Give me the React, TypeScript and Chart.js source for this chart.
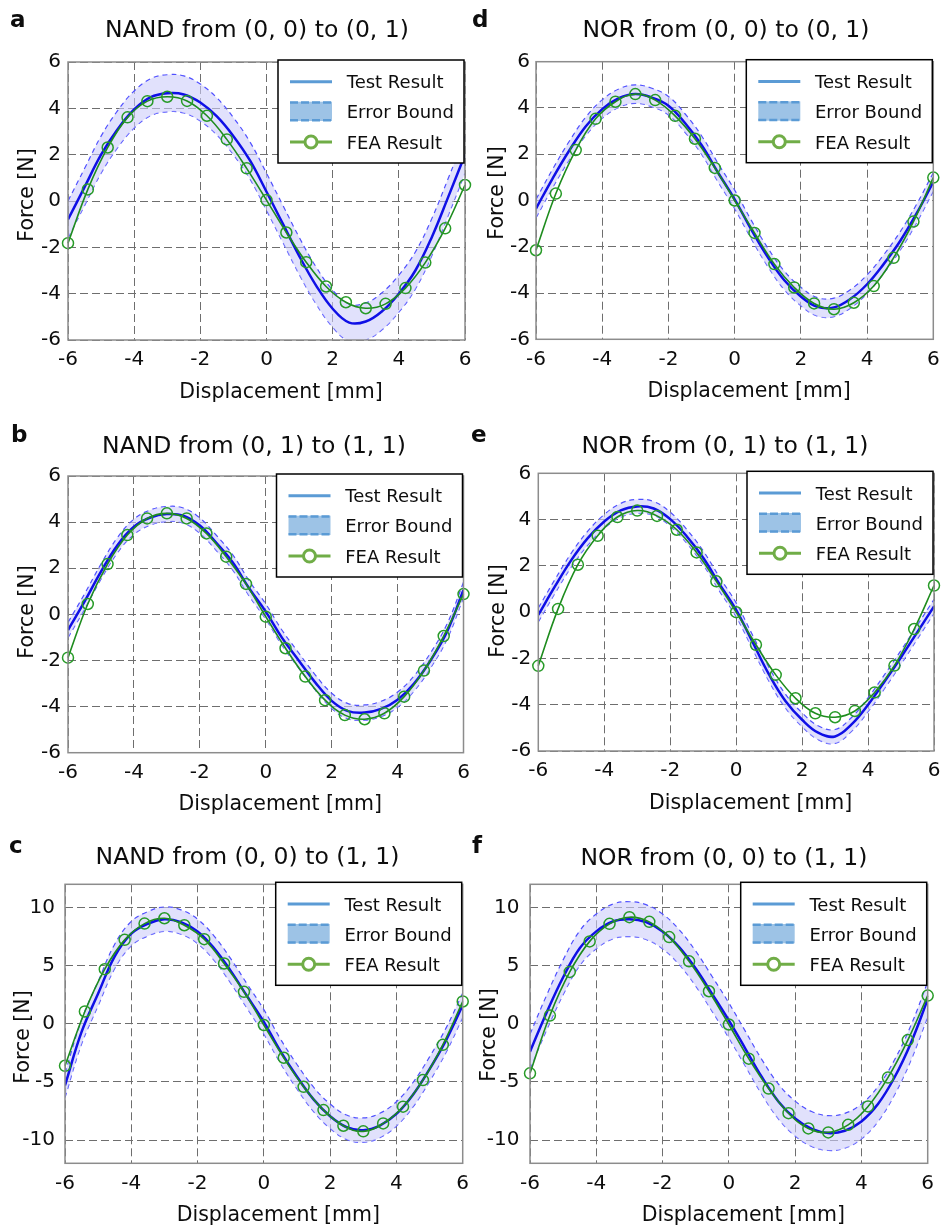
import React, { useEffect, useRef } from "react";
import { Chart, registerables } from "chart.js";

Chart.register(...registerables);

const FONT = '"DejaVu Sans", sans-serif';

// ---------- data ----------
const xTicks = [-6, -4, -2, 0, 2, 4, 6];
const yTicksSmall = [-6, -4, -2, 0, 2, 4, 6];
const yTicksLarge = [-10, -5, 0, 5, 10];
const legendLabels = ["Test Result", "Error Bound", "FEA Result"];
const xTitle = "Displacement [mm]";
const yTitle = "Force [N]";

const xTest = [-6, -5.5, -5, -4.5, -4, -3.5, -3, -2.5, -2, -1.5, -1, -0.5, 0, 0.5, 1, 1.5, 2, 2.5, 3, 3.5, 4, 4.5, 5, 5.5, 6];
const xFea = [-6, -5.4, -4.8, -4.2, -3.6, -3, -2.4, -1.8, -1.2, -0.6, 0, 0.6, 1.2, 1.8, 2.4, 3, 3.6, 4.2, 4.8, 5.4, 6];

const testA = [-0.8, 0.6, 2.0, 3.1, 3.95, 4.48, 4.65, 4.6, 4.25, 3.65, 2.8, 1.75, 0.4, -1.0, -2.4, -3.65, -4.65, -5.25, -5.2, -4.75, -4.0, -3.0, -1.55, 0.2, 2.0];
const feaA = [-1.82, 0.5, 2.31, 3.61, 4.31, 4.5, 4.32, 3.68, 2.66, 1.41, 0.04, -1.36, -2.64, -3.69, -4.37, -4.63, -4.44, -3.76, -2.66, -1.18, 0.69];
const errA = 0.8;

const testB = [-0.68, 0.55, 1.85, 3.0, 3.8, 4.2, 4.35, 4.28, 3.85, 3.1, 2.25, 1.12, 0.12, -1.03, -2.0, -2.95, -3.75, -4.2, -4.26, -4.1, -3.7, -3.0, -2.0, -0.75, 1.06];
const feaB = [-1.88, 0.45, 2.18, 3.44, 4.16, 4.38, 4.16, 3.51, 2.5, 1.32, -0.1, -1.47, -2.7, -3.72, -4.37, -4.55, -4.29, -3.57, -2.44, -0.94, 0.88];
const errB = 0.33;

const testC = [-5.3, -0.7, 2.6, 5.8, 7.75, 8.6, 9.0, 8.75, 7.95, 6.5, 4.55, 2.35, 0.17, -2.35, -4.55, -6.5, -7.95, -8.9, -9.15, -8.75, -7.75, -6.1, -3.9, -1.4, 1.6];
const feaC = [-3.61, 1.06, 4.7, 7.22, 8.62, 9.08, 8.48, 7.28, 5.19, 2.75, -0.11, -2.92, -5.42, -7.42, -8.77, -9.25, -8.57, -7.13, -4.84, -1.81, 1.92];
const errC = 1.05;

const testD = [-0.35, 0.95, 2.15, 3.2, 3.95, 4.42, 4.6, 4.45, 4.1, 3.35, 2.4, 1.2, 0.05, -1.25, -2.45, -3.45, -4.15, -4.6, -4.62, -4.25, -3.62, -2.75, -1.75, -0.55, 0.8];
const feaD = [-2.15, 0.3, 2.18, 3.53, 4.27, 4.6, 4.34, 3.66, 2.67, 1.41, 0.0, -1.4, -2.75, -3.76, -4.45, -4.7, -4.42, -3.7, -2.48, -0.91, 0.99];
const errD = 0.4;

const testE = [-0.12, 1.1, 2.25, 3.2, 3.92, 4.4, 4.57, 4.48, 4.02, 3.28, 2.35, 1.2, 0.1, -1.3, -2.7, -3.85, -4.65, -5.22, -5.37, -4.85, -4.0, -3.0, -1.95, -0.85, 0.25];
const feaE = [-2.32, 0.14, 2.05, 3.3, 4.11, 4.39, 4.16, 3.56, 2.58, 1.33, 0.0, -1.41, -2.71, -3.72, -4.37, -4.54, -4.27, -3.47, -2.31, -0.73, 1.15];
const errE = 0.3;

const testF = [-2.4, 0.95, 4.0, 6.5, 7.95, 8.8, 9.0, 8.75, 7.95, 6.6, 4.75, 2.55, 0.29, -2.15, -4.6, -6.7, -8.15, -9.05, -9.4, -9.2, -8.4, -6.9, -4.6, -1.6, 2.1];
const feaF = [-4.26, 0.71, 4.46, 7.09, 8.6, 9.17, 8.77, 7.46, 5.37, 2.8, -0.06, -3.0, -5.57, -7.69, -9.0, -9.34, -8.69, -7.11, -4.63, -1.4, 2.43];
const errF = 1.5;

// ---------- layout (page pixels) ----------
type Panel = {
  letter: string;
  title: string;
  test: number[];
  fea: number[];
  err: number;
  yMin: number;
  yMax: number;
  yTicks: number[];
  L: number; T: number; R: number; B: number;
  yTickPad: number;
  titleX: number; titleBase: number;
  letterX: number; letterBase: number;
  yTitleX: number; yTitleY: number;
};

const panels: Panel[] = [
  { letter: "a", title: "NAND from (0, 0) to (0, 1)", test: testA, fea: feaA, err: errA, yMin: -6, yMax: 6, yTicks: yTicksSmall,
    L: 68, T: 62, R: 465, B: 340, yTickPad: 7, titleX: 257, titleBase: 37.3, letterX: 10, letterBase: 26.7, yTitleX: 33, yTitleY: 195 },
  { letter: "b", title: "NAND from (0, 1) to (1, 1)", test: testB, fea: feaB, err: errB, yMin: -6, yMax: 6, yTicks: yTicksSmall,
    L: 68, T: 476, R: 463.5, B: 752.7, yTickPad: 7, titleX: 254, titleBase: 452.7, letterX: 11, letterBase: 441.7, yTitleX: 33, yTitleY: 612 },
  { letter: "c", title: "NAND from (0, 0) to (1, 1)", test: testC, fea: feaC, err: errC, yMin: -12, yMax: 12, yTicks: yTicksLarge,
    L: 65, T: 884.3, R: 462.7, B: 1163.3, yTickPad: 10, titleX: 247.5, titleBase: 864.3, letterX: 9, letterBase: 853.3, yTitleX: 29, yTitleY: 1037 },
  { letter: "d", title: "NOR from (0, 0) to (0, 1)", test: testD, fea: feaD, err: errD, yMin: -6, yMax: 6, yTicks: yTicksSmall,
    L: 536, T: 61.7, R: 933.3, B: 339.3, yTickPad: 6, titleX: 726, titleBase: 36.7, letterX: 472, letterBase: 27.3, yTitleX: 503, yTitleY: 193 },
  { letter: "e", title: "NOR from (0, 1) to (1, 1)", test: testE, fea: feaE, err: errE, yMin: -6, yMax: 6, yTicks: yTicksSmall,
    L: 538.3, T: 473.3, R: 934.3, B: 751, yTickPad: 7, titleX: 725, titleBase: 452.7, letterX: 471, letterBase: 441.7, yTitleX: 504, yTitleY: 611 },
  { letter: "f", title: "NOR from (0, 0) to (1, 1)", test: testF, fea: feaF, err: errF, yMin: -12, yMax: 12, yTicks: yTicksLarge,
    L: 530, T: 884.3, R: 927.7, B: 1163.3, yTickPad: 10.5, titleX: 724, titleBase: 865, letterX: 472, letterBase: 853.3, yTitleX: 495, yTitleY: 1035 },
];

const W = 941;
const H = 1227;
const Y_AXIS_W = 56;
const X_AXIS_H = 40;
const TEXT = "#0d0d0d";

function decorPlugin(p: Panel) {
  return {
    id: "decor_" + p.letter,
    afterDraw(chart: any) {
      const ctx = chart.ctx as CanvasRenderingContext2D;
      const { left, top, right, bottom } = chart.chartArea;
      ctx.save();
      // frame
      ctx.setLineDash([]);
      ctx.strokeStyle = "#8c8c8c";
      ctx.lineWidth = 1.5;
      ctx.strokeRect(left, top, right - left, bottom - top);

      ctx.fillStyle = TEXT;
      ctx.textBaseline = "alphabetic";
      // title
      ctx.font = `23.5px ${FONT}`;
      ctx.textAlign = "center";
      ctx.fillText(p.title, p.titleX, p.titleBase);
      // panel letter
      ctx.font = `bold 23px ${FONT}`;
      ctx.textAlign = "left";
      ctx.fillText(p.letter, p.letterX, p.letterBase);
      // axis titles
      ctx.font = `20.5px ${FONT}`;
      ctx.textAlign = "center";
      ctx.fillText(xTitle, (left + right) / 2 + 14.5, bottom + 57.5);
      ctx.save();
      ctx.translate(p.yTitleX, p.yTitleY);
      ctx.rotate(-Math.PI / 2);
      ctx.fillText(yTitle, 0, 0);
      ctx.restore();

      // legend
      const bx = right - 187;
      const by = top - 2;
      const bw = 186;
      const bh = 103;
      ctx.fillStyle = "#fff";
      ctx.fillRect(bx, by, bw, bh);
      ctx.strokeStyle = "#000";
      ctx.lineWidth = 1.5;
      ctx.strokeRect(bx, by, bw, bh);

      const lx0 = bx + 12;
      const lx1 = bx + 54;
      // Test Result
      ctx.strokeStyle = "#5b9bd5";
      ctx.lineWidth = 3;
      ctx.beginPath();
      ctx.moveTo(lx0, by + 21.7);
      ctx.lineTo(lx1, by + 21.7);
      ctx.stroke();
      // Error Bound patch
      ctx.fillStyle = "#9dc3e6";
      ctx.fillRect(lx0, by + 41.7, lx1 - lx0, 19.3);
      ctx.setLineDash([8, 3]);
      ctx.strokeStyle = "#5b9bd5";
      ctx.lineWidth = 2.5;
      ctx.beginPath();
      ctx.moveTo(lx0, by + 42.5);
      ctx.lineTo(lx1, by + 42.5);
      ctx.moveTo(lx0, by + 60.2);
      ctx.lineTo(lx1, by + 60.2);
      ctx.stroke();
      ctx.setLineDash([]);
      // FEA Result
      ctx.strokeStyle = "#70ad47";
      ctx.lineWidth = 3;
      ctx.beginPath();
      ctx.moveTo(lx0, by + 82);
      ctx.lineTo(lx1, by + 82);
      ctx.stroke();
      ctx.fillStyle = "#fff";
      ctx.beginPath();
      ctx.arc((lx0 + lx1) / 2, by + 82, 6, 0, Math.PI * 2);
      ctx.fill();
      ctx.stroke();

      ctx.fillStyle = TEXT;
      ctx.font = `18px ${FONT}`;
      ctx.textAlign = "left";
      ctx.fillText(legendLabels[0], bx + 68.7, by + 28.3);
      ctx.fillText(legendLabels[1], bx + 68.7, by + 58.3);
      ctx.fillText(legendLabels[2], bx + 68.7, by + 89);
      ctx.restore();
    },
  };
}

function buildConfig(p: Panel): any {
  const testPts = xTest.map((x, i) => ({ x, y: p.test[i] }));
  const upperPts = xTest.map((x, i) => ({ x, y: p.test[i] + p.err }));
  const lowerPts = xTest.map((x, i) => ({ x, y: p.test[i] - p.err }));
  const feaPts = xFea.map((x, i) => ({ x, y: p.fea[i] }));
  return {
    type: "line",
    data: {
      datasets: [
        {
          label: legendLabels[2],
          data: feaPts,
          borderColor: "rgb(30,140,30)",
          borderWidth: 1.6,
          tension: 0.4,
          pointRadius: 5.5,
          pointStyle: "circle",
          pointBorderColor: "rgb(40,155,40)",
          pointBackgroundColor: "rgba(0,0,0,0)",
          pointBorderWidth: 1.5,
          clip: 10,
          order: 0,
        },
        {
          label: legendLabels[0],
          data: testPts,
          borderColor: "rgb(15,15,230)",
          borderWidth: 2.5,
          tension: 0.4,
          pointRadius: 0,
          order: 1,
        },
        {
          label: legendLabels[1] + " upper",
          data: upperPts,
          borderColor: "rgb(80,80,255)",
          borderWidth: 1.2,
          borderDash: [5, 4],
          tension: 0.4,
          pointRadius: 0,
          fill: "+1",
          backgroundColor: "rgba(205,205,250,0.6)",
          order: 2,
        },
        {
          label: legendLabels[1] + " lower",
          data: lowerPts,
          borderColor: "rgb(80,80,255)",
          borderWidth: 1.2,
          borderDash: [5, 4],
          tension: 0.4,
          pointRadius: 0,
          fill: false,
          order: 3,
        },
      ],
    },
    options: {
      responsive: false,
      animation: false,
      events: [],
      layout: {
        padding: {
          left: p.L - Y_AXIS_W,
          top: p.T,
          right: W - p.R,
          bottom: H - p.B - X_AXIS_H,
        },
      },
      plugins: {
        legend: { display: false },
        title: { display: false },
        tooltip: { enabled: false },
      },
      scales: {
        x: {
          type: "linear",
          min: -6,
          max: 6,
          afterBuildTicks: (s: any) => {
            s.ticks = xTicks.map((v) => ({ value: v }));
          },
          afterFit: (s: any) => {
            s.height = X_AXIS_H;
            s.paddingLeft = 0;
            s.paddingRight = 0;
          },
          ticks: {
            font: { family: FONT, size: 20 },
            color: TEXT,
            padding: 8,
            maxRotation: 0,
            autoSkip: false,
            callback: (v: any) => `${v}`,
          },
          grid: { color: "#6e6e6e", lineWidth: 1, drawTicks: false },
          border: { display: false, dash: [8, 4] },
        },
        y: {
          type: "linear",
          min: p.yMin,
          max: p.yMax,
          afterBuildTicks: (s: any) => {
            s.ticks = p.yTicks.map((v) => ({ value: v }));
          },
          afterFit: (s: any) => {
            s.width = Y_AXIS_W;
            s.paddingTop = 0;
            s.paddingBottom = 0;
          },
          ticks: {
            font: { family: FONT, size: 20 },
            color: TEXT,
            padding: p.yTickPad,
            autoSkip: false,
            callback: (v: any) => `${v}`,
          },
          grid: { color: "#6e6e6e", lineWidth: 1, drawTicks: false },
          border: { display: false, dash: [8, 4] },
        },
      },
    },
    plugins: [decorPlugin(p)],
  };
}

function PanelChart({ p }: { p: Panel }) {
  const ref = useRef<HTMLCanvasElement | null>(null);
  useEffect(() => {
    if (!ref.current) return;
    const chart = new Chart(ref.current, buildConfig(p));
    return () => chart.destroy();
  }, [p]);
  return (
    <canvas
      ref={ref}
      width={W}
      height={H}
      style={{ position: "absolute", left: 0, top: 0, width: W, height: H }}
    />
  );
}

export default function App() {
  return (
    <div
      style={{
        position: "absolute",
        left: 0,
        top: 0,
        width: W,
        height: H,
        overflow: "hidden",
        background: "#fff",
      }}
    >
      {panels.map((p) => (
        <PanelChart key={p.letter} p={p} />
      ))}
    </div>
  );
}
